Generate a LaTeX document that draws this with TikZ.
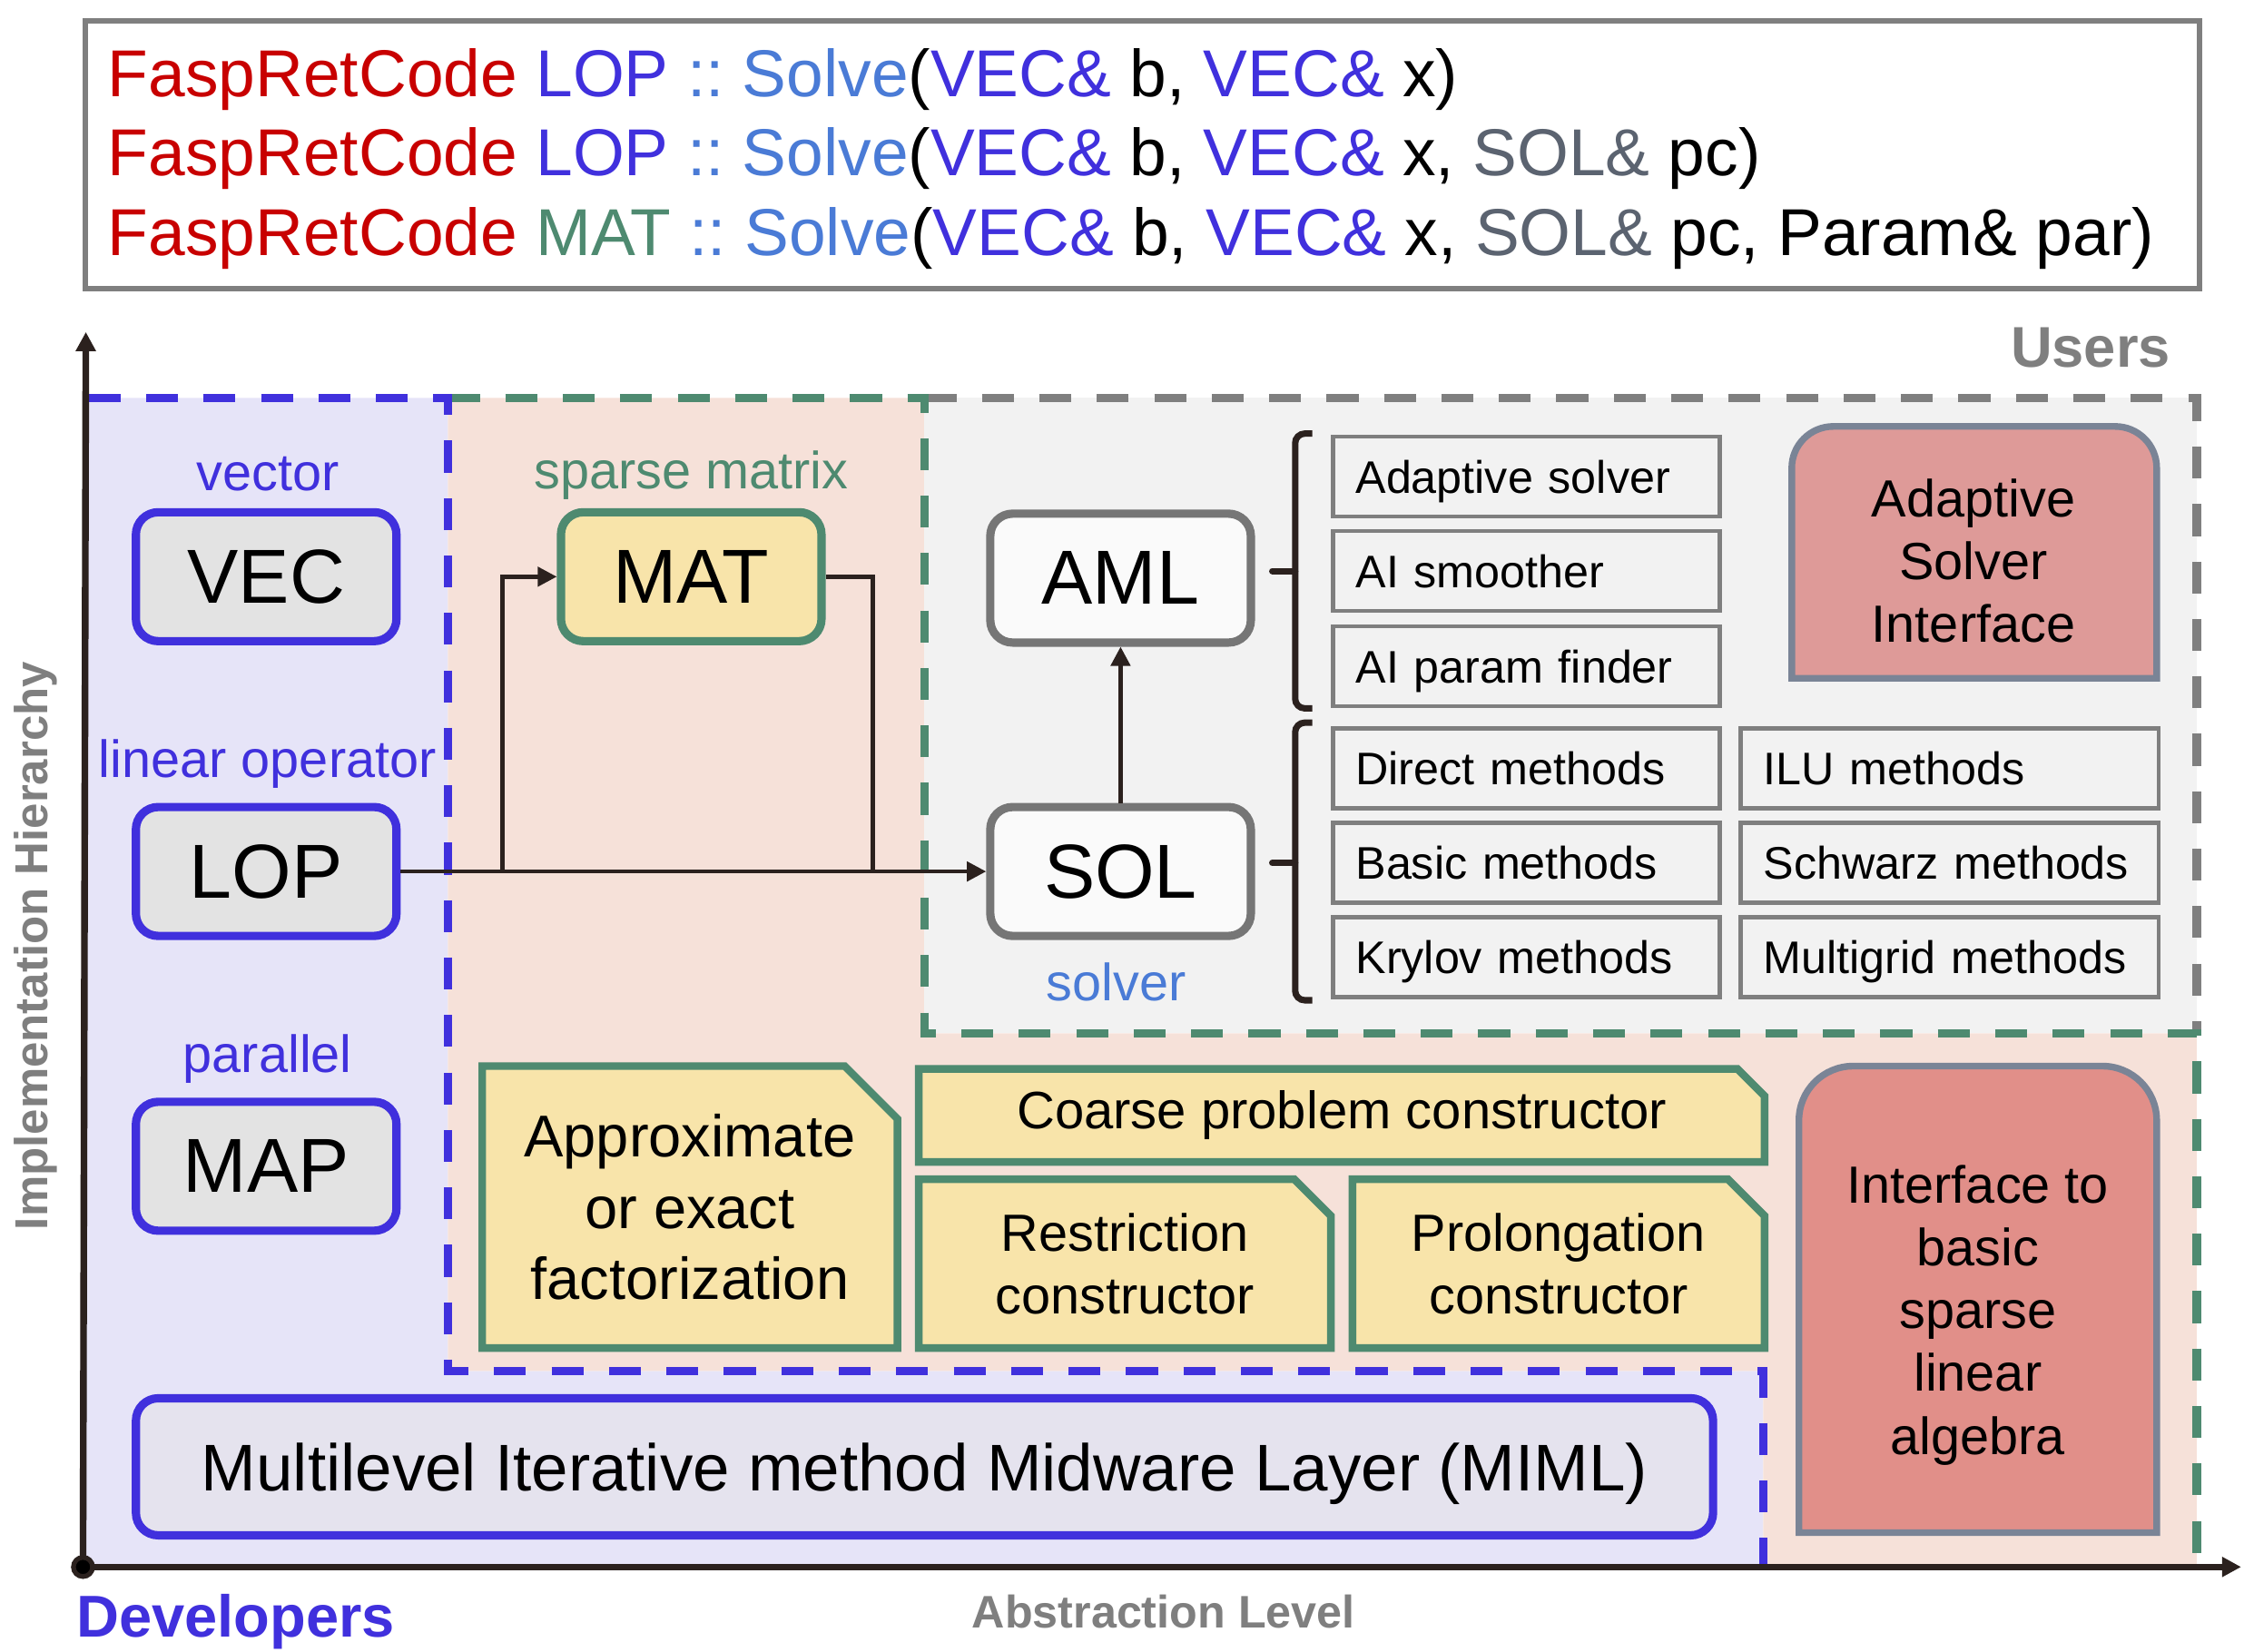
\documentclass[tikz,border=0pt]{standalone}
\usepackage{fontspec}
\setmainfont{Liberation Sans}
\usetikzlibrary{shapes.misc,arrows.meta}
\frenchspacing

\definecolor{fred}{HTML}{C80000}
\definecolor{fblue}{HTML}{4030DD}
\definecolor{flight}{HTML}{4A7BD6}
\definecolor{fgreen}{HTML}{4E8A70}
\definecolor{fslate}{HTML}{5B6370}
\definecolor{fgray}{HTML}{7F7F7F}
\definecolor{fdark}{HTML}{2B211E}
\definecolor{zblue}{HTML}{E6E4F8}
\definecolor{zpink}{HTML}{F6E1D9}
\definecolor{zgray}{HTML}{F2F2F2}
\definecolor{cellgray}{HTML}{E3E3E3}
\definecolor{mimlfill}{HTML}{E5E3EE}
\definecolor{pale}{HTML}{FAFAFA}
\definecolor{yellowfill}{HTML}{F8E4AA}
\definecolor{asired}{HTML}{DE9A98}
\definecolor{libred}{HTML}{E18F89}
\definecolor{redline}{HTML}{7A8496}
\definecolor{solline}{HTML}{767676}

\tikzset{
  zoneline/.style={line width=2.6pt, dash pattern=on 10pt off 8pt},
  corebox/.style={draw, rounded corners=7pt, line width=2.6pt, minimum width=2.87cm, minimum height=1.42cm, font=\fontsize{24}{28}\selectfont},
  tagtext/.style={inner sep=0pt, font=\fontsize{16.4}{19.7}\selectfont},
  methodcell/.style={draw=fgray, fill=zgray, line width=1.3pt, anchor=west, minimum height=0.88cm, inner xsep=0.25cm, text depth=0pt, align=left, font=\fontsize{14.3}{17}\selectfont},
  snipbox/.style={chamfered rectangle, chamfered rectangle corners=north east, chamfered rectangle xsep=#1, draw=fgreen, fill=yellowfill, line width=2.4pt, align=center},
  redbox/.style={draw=redline, line width=2.1pt},
  linkline/.style={draw=fdark, line width=1.3pt},
  axisline/.style={draw=fdark, line width=2.1pt},
  tip/.style={-{Triangle[length=6pt,width=6pt]}},
}

\begin{document}
\begin{tikzpicture}[x=0.015765cm, y=-0.015765cm]
    \useasboundingbox (0,0) rectangle (1568,1154);

    % Signatures
    \node[draw=fgray, line width=1.6pt, fill=white, anchor=north west, minimum width=23.285cm, minimum height=2.948cm] (api) at (58,13) {};
    \node[anchor=west, inner sep=0pt, align=left, font=\fontsize{20.8}{24.8}\selectfont] (apitext) at (75,111) {%
        \textcolor{fred}{FaspRetCode} \textcolor{fblue}{LOP} \textcolor{flight}{:: Solve}(\textcolor{fblue}{VEC\&} b, \textcolor{fblue}{VEC\&} x)\\
        \textcolor{fred}{FaspRetCode} \textcolor{fblue}{LOP} \textcolor{flight}{:: Solve}(\textcolor{fblue}{VEC\&} b, \textcolor{fblue}{VEC\&} x, \textcolor{fslate}{SOL\&} pc)\\
        \textcolor{fred}{FaspRetCode} \textcolor{fgreen}{MAT} \textcolor{flight}{:: Solve}(\textcolor{fblue}{VEC\&} b, \textcolor{fblue}{VEC\&} x, \textcolor{fslate}{SOL\&} pc, Param\& par)};

    % Layers
    \fill[zblue] (60,278) -- (313,278) -- (313,958) -- (1232,958) -- (1232,1095) -- (60,1095) -- cycle;
    \fill[zpink] (313,278) -- (646,278) -- (646,722) -- (1535,722) -- (1535,1095) -- (1232,1095) -- (1232,958) -- (313,958) -- cycle;
    \fill[zgray] (646,278) rectangle (1535,722);
    \draw[zoneline, fgray] (646,278) -- (1535,278) -- (1535,722);
    \draw[zoneline, fgreen] (313,278) -- (646,278) -- (646,722) -- (1535,722) -- (1535,1095);
    \draw[zoneline, fblue] (62,278) -- (313,278) -- (313,958) -- (1232,958) -- (1232,1095);

    % Axes
    \coordinate (origin) at (58,1095);
    \coordinate (ytip) at (60,232);
    \coordinate (xtip) at (1566,1095);
    \draw[axisline, tip] (origin) -- (ytip);
    \draw[axisline, tip] (origin) -- (xtip);
    \filldraw[fill=black, draw=fdark, line width=1.5pt] (origin) circle (3pt);
    \node[anchor=east, inner sep=0pt, text=fgray, font=\bfseries\fontsize{18}{21}\selectfont] (users) at (1517,243) {Users};
    \node[anchor=west, inner sep=0pt, text=fblue, font=\bfseries\fontsize{18.5}{22}\selectfont] (devs) at (53,1133) {Developers};
    \node[inner sep=0pt, text=fgray, font=\bfseries\fontsize{14.3}{17}\selectfont] (xlabel) at (813,1126) {Abstraction Level};
    \node[rotate=90, inner sep=0pt, text=fgray, font=\bfseries\fontsize{14.5}{17}\selectfont] (ylabel) at (25,661) {Implementation Hierarchy};

    % Data structures
    \node[tagtext, text=fblue] (vectag) at (187,331) {vector};
    \node[corebox, draw=fblue, fill=cellgray] (vec) at (186,403) {VEC};
    \node[tagtext, text=fblue] (loptag) at (187,534) {linear operator};
    \node[corebox, draw=fblue, fill=cellgray] (lop) at (186,609) {LOP};
    \node[tagtext, text=fblue] (maptag) at (187,740) {parallel};
    \node[corebox, draw=fblue, fill=cellgray] (map) at (186,815) {MAP};
    \node[tagtext, text=fgreen] (mattag) at (483,332) {sparse matrix};
    \node[corebox, draw=fgreen, fill=yellowfill] (mat) at (483,403) {MAT};
    \node[corebox, draw=solline, fill=pale] (aml) at (783,404) {AML};
    \node[corebox, draw=solline, fill=pale] (sol) at (783,609) {SOL};
    \node[tagtext, text=flight] (soltag) at (780,686) {solver};

    % Connectors
    \coordinate (fork) at ([xshift=1.12cm]lop.east);
    \coordinate (merge) at ([xshift=0.52cm]mat.east |- lop.east);
    \draw[linkline, tip] (lop.east) -- (sol.west);
    \draw[linkline, tip] (fork) |- (mat.west);
    \draw[linkline] (mat.east) -| (merge);
    \draw[linkline, tip] (sol) -- (aml);

    % Solver options
    \node[methodcell, text width=3.76cm] (adsolver) at (930,333) {Adaptive solver};
    \node[methodcell, text width=3.76cm] (aismooth) at (930,399) {AI smoother};
    \node[methodcell, text width=3.76cm] (aiparam) at (930,465.5) {AI param finder};
    \node[methodcell, text width=3.76cm] (direct) at (930,537) {Direct methods};
    \node[methodcell, text width=3.76cm] (basic) at (930,603) {Basic methods};
    \node[methodcell, text width=3.76cm] (krylov) at (930,669) {Krylov methods};
    \node[methodcell, text width=4.1cm] (ilu) at (1215,537) {ILU methods};
    \node[methodcell, text width=4.1cm] (schwarz) at (1215,603) {Schwarz methods};
    \node[methodcell, text width=4.1cm] (mg) at (1215,669) {Multigrid methods};
    \draw[linkline, line width=2pt, rounded corners=3pt] (917,303) -| (905,495) -- (917,495);
    \draw[linkline, line width=2pt, line cap=round] (889,399) -- (905,399);
    \draw[linkline, line width=2pt, rounded corners=3pt] (917,505) -| (905,699) -- (917,699);
    \draw[linkline, line width=2pt, line cap=round] (889,603) -- (905,603);

    % Interfaces
    \draw[redbox, fill=asired] (1252,474) [rounded corners=13pt] -- (1252,298) -- (1507,298) [sharp corners] -- (1507,474) -- cycle;
    \node[tagtext, align=center] (asi) at (1379,392) {Adaptive\\Solver\\Interface};
    \draw[redbox, fill=libred] (1257,1071) [rounded corners=17pt] -- (1257,745) -- (1507,745) [sharp corners] -- (1507,1071) -- cycle;
    \node[tagtext, align=center] (basiclib) at (1382,919) {Interface to\\basic\\sparse\\linear\\algebra};

    % Multilevel components
    \node[snipbox=13pt, inner xsep=0pt, minimum width=4.572cm, minimum height=3.106cm, font=\fontsize{18.5}{22.4}\selectfont] (factor) at (482,843.5) {Approximate\\or exact\\factorization};
    \node[snipbox=5pt, minimum width=9.317cm, minimum height=1.025cm, font=\fontsize{16.5}{19.7}\selectfont] (coarse) at (937.5,779.5) {Coarse problem constructor};
    \node[snipbox=8pt, minimum width=4.54cm, minimum height=1.86cm, font=\fontsize{16.4}{19.7}\selectfont] (restrict) at (786,883) {Restriction\\constructor};
    \node[snipbox=8pt, minimum width=4.54cm, minimum height=1.86cm, font=\fontsize{16.4}{19.7}\selectfont] (prolong) at (1089,883) {Prolongation\\constructor};

    % Midware
    \node[draw=fblue, fill=mimlfill, line width=2.6pt, rounded corners=7pt, text depth=0pt, minimum width=17.37cm, minimum height=1.51cm, font=\fontsize{20.7}{24}\selectfont] (miml) at (646,1025) {Multilevel Iterative method Midware Layer (MIML)};
\end{tikzpicture}
\end{document}
